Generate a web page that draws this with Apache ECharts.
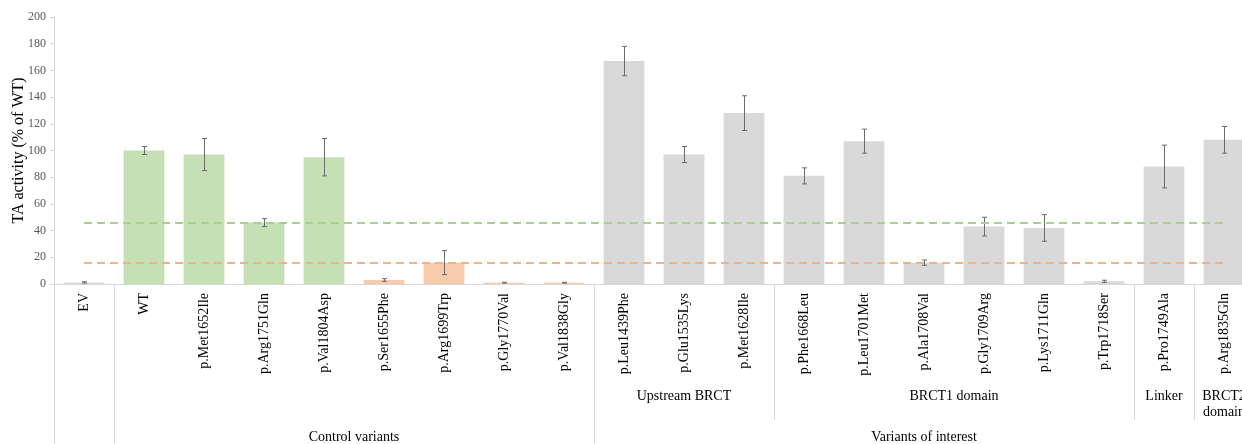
<!DOCTYPE html>
<html>
<head>
<meta charset="utf-8">
<script src="https://cdn.jsdelivr.net/npm/echarts@6/dist/echarts.min.js"></script>
<style>
  html, body { margin: 0; padding: 0; background: #fff; }
  #chart { width: 1242px; height: 444px; }
</style>
</head>
<body>
<div id="chart"></div>
<script>
// Transactivation (TA) activity of BRCA1 variants, % of wild type
const categories = ['EV', 'WT', 'p.Met1652Ile', 'p.Arg1751Gln', 'p.Val1804Asp',
  'p.Ser1655Phe', 'p.Arg1699Trp', 'p.Gly1770Val', 'p.Val1838Gly',
  'p.Leu1439Phe', 'p.Glu1535Lys', 'p.Met1628Ile',
  'p.Phe1668Leu', 'p.Leu1701Met', 'p.Ala1708Val', 'p.Gly1709Arg', 'p.Lys1711Gln', 'p.Trp1718Ser',
  'p.Pro1749Ala', 'p.Arg1835Gln'];
const activity = [1.2, 100, 97, 46, 95, 3, 16, 1, 1, 167, 97, 128, 81, 107, 16, 43, 42, 2, 88, 108];
const errorSD = [0.5, 3, 12, 3, 14, 1, 9, 0.3, 0.3, 11, 6, 13, 6, 9, 2, 7, 10, 0.8, 16, 10];
const variantClass = ['empty', 'neutral', 'neutral', 'neutral', 'neutral',
  'deleterious', 'deleterious', 'deleterious', 'deleterious',
  'tested', 'tested', 'tested', 'tested', 'tested', 'tested', 'tested', 'tested', 'tested', 'tested', 'tested'];
const neutralCutoff = 46;
const deleteriousCutoff = 16;
const yTicks = [0, 20, 40, 60, 80, 100, 120, 140, 160, 180, 200];

// Domain groups under the category labels
const subGroups = [
  { label: 'Upstream BRCT', from: 9, to: 11 },
  { label: 'BRCT1 domain', from: 12, to: 17 },
  { label: 'Linker', from: 18, to: 18 },
  { label: 'BRCT2\ndomain', from: 19, to: 19 }
];
const topGroups = [
  { label: '', from: 0, to: 0 },
  { label: 'Control variants', from: 1, to: 8 },
  { label: 'Variants of interest', from: 9, to: 19 }
];

const classColor = {
  empty: '#d9d9d9',
  neutral: '#c5e0b4',
  deleterious: '#f8cbad',
  tested: '#d9d9d9'
};
const serif = '"Liberation Serif", "DejaVu Serif", serif';
const ruleColor = '#d9d9d9';

const groupItems = subGroups.map(g => Object.assign({ level: 2 }, g))
  .concat(topGroups.map(g => Object.assign({ level: 3 }, g)));

function crisp(x) { return Math.round(x) + 0.5; }

function renderGroup(params, api) {
  const g = groupItems[api.value(2)];
  const band = api.size([1, 0])[0];
  const p0 = api.coord([g.from, 0]);
  const p1 = api.coord([g.to, 0]);
  const left = crisp(p0[0] - band / 2);
  const right = crisp(p1[0] + band / 2);
  const base = p0[1];
  const depth = g.level === 3 ? 170 : 136;
  const textTop = base + (g.level === 3 ? 145 : 104);
  const lineStyle = { stroke: ruleColor, lineWidth: 1 };
  const children = [
    { type: 'line', shape: { x1: left, y1: base, x2: left, y2: base + depth }, style: lineStyle },
    { type: 'line', shape: { x1: right, y1: base, x2: right, y2: base + depth }, style: lineStyle }
  ];
  if (g.label) {
    children.push({
      type: 'text',
      style: {
        text: g.label,
        x: (p0[0] + p1[0]) / 2,
        y: textTop,
        textAlign: 'center',
        textVerticalAlign: 'top',
        fill: '#000',
        font: '14px ' + serif,
        lineHeight: 16
      }
    });
  }
  return { type: 'group', children: children };
}

function renderErrorBar(params, api) {
  const i = api.value(0);
  const top = api.coord([i, api.value(2)]);
  const bottom = api.coord([i, api.value(1)]);
  const x = crisp(top[0]);
  const cap = 2.5;
  const style = { stroke: '#6b6b6b', lineWidth: 1 };
  return {
    type: 'group',
    children: [
      { type: 'line', shape: { x1: x, y1: top[1], x2: x, y2: bottom[1] }, style: style },
      { type: 'line', shape: { x1: x - cap, y1: top[1], x2: x + cap, y2: top[1] }, style: style },
      { type: 'line', shape: { x1: x - cap, y1: bottom[1], x2: x + cap, y2: bottom[1] }, style: style }
    ]
  };
}

const chart = echarts.init(document.getElementById('chart'), null, { renderer: 'canvas' });

chart.setOption({
  animation: false,
  backgroundColor: '#fff',
  grid: {
    left: 54, top: 17, width: 1200, height: 267,
    containLabel: false,
    outerBoundsMode: 'none'
  },
  xAxis: {
    type: 'category',
    data: categories,
    axisLine: { lineStyle: { color: ruleColor, width: 1 } },
    axisTick: { show: false },
    axisLabel: {
      interval: 0,
      rotate: 90,
      margin: 9,
      color: '#000',
      fontSize: 14,
      fontFamily: serif
    },
    splitLine: { show: false }
  },
  yAxis: {
    type: 'value',
    min: yTicks[0],
    max: yTicks[yTicks.length - 1],
    interval: yTicks[1] - yTicks[0],
    name: 'TA activity (% of WT)',
    nameLocation: 'middle',
    nameGap: 27,
    nameMoveOverlap: false,
    nameTextStyle: { color: '#000', fontSize: 16, fontFamily: serif },
    axisLine: { show: true, lineStyle: { color: ruleColor, width: 1 } },
    axisTick: { show: true, length: 4, lineStyle: { color: ruleColor } },
    axisLabel: { color: '#595959', fontSize: 12, fontFamily: serif, margin: 8 },
    splitLine: { show: false }
  },
  series: [
    {
      type: 'bar',
      name: 'TA activity',
      barWidth: '68%',
      data: activity.map((v, i) => ({
        value: v,
        itemStyle: { color: classColor[variantClass[i]] }
      })),
      markLine: {
        silent: true,
        symbol: 'none',
        label: { show: false },
        data: [
          [
            { coord: [categories[0], neutralCutoff], lineStyle: { color: '#a9d18e' } },
            { coord: [categories[categories.length - 1], neutralCutoff] }
          ],
          [
            { coord: [categories[0], deleteriousCutoff], lineStyle: { color: '#f4b183' } },
            { coord: [categories[categories.length - 1], deleteriousCutoff] }
          ]
        ],
        lineStyle: { type: [8, 5], width: 2 }
      },
      z: 2
    },
    {
      type: 'custom',
      name: 'SD',
      renderItem: renderErrorBar,
      data: activity.map((v, i) => [i, v - errorSD[i], v + errorSD[i]]),
      encode: { x: 0, y: [1, 2] },
      z: 4
    },
    {
      type: 'custom',
      name: 'groups',
      clip: false,
      silent: true,
      renderItem: renderGroup,
      data: groupItems.map((g, i) => [g.from, 0, i]),
      encode: { x: 0, y: 1 },
      z: 1
    }
  ]
});
</script>
</body>
</html>
